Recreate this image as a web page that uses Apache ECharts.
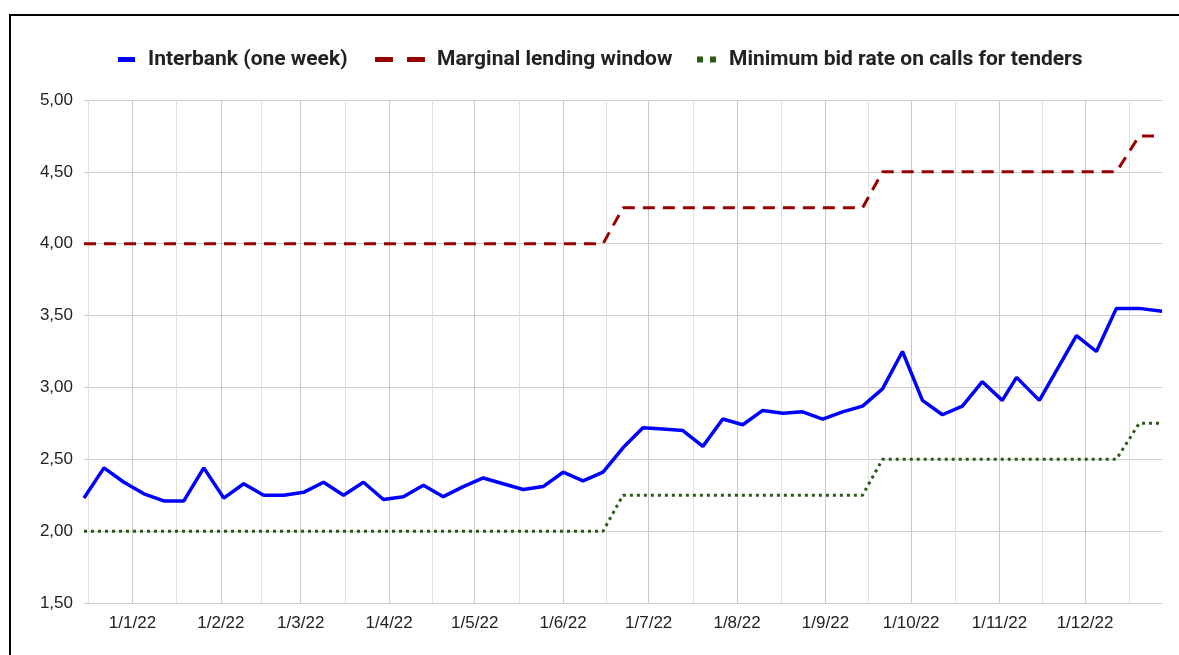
<!DOCTYPE html>
<html>
<head>
<meta charset="utf-8">
<title>Interbank rates 2022</title>
<script src="https://cdn.jsdelivr.net/npm/echarts@6.0.0/dist/echarts.min.js"></script>
<style>
  html, body { margin: 0; padding: 0; background: #fff; overflow: hidden; }
  #frame { position: absolute; left: 9px; top: 14px; width: 1300px; height: 800px; border: 2px solid #000; box-sizing: border-box; }
  #chart { position: absolute; left: 0; top: 0; width: 1179px; height: 655px; }
</style>
</head>
<body>
<div id="frame"></div>
<div id="chart"></div>
<script>
// fechas (semanal)
var dates = ['2021-12-15','2021-12-22','2021-12-29',
  '2022-01-05','2022-01-12','2022-01-19','2022-01-26',
  '2022-02-02','2022-02-09','2022-02-16','2022-02-23',
  '2022-03-02','2022-03-09','2022-03-16','2022-03-23','2022-03-30',
  '2022-04-06','2022-04-13','2022-04-20','2022-04-27',
  '2022-05-04','2022-05-11','2022-05-18','2022-05-25',
  '2022-06-01','2022-06-08','2022-06-15','2022-06-22','2022-06-29',
  '2022-07-06','2022-07-13','2022-07-20','2022-07-27',
  '2022-08-03','2022-08-10','2022-08-17','2022-08-24','2022-08-31',
  '2022-09-07','2022-09-14','2022-09-21','2022-09-28',
  '2022-10-05','2022-10-12','2022-10-19','2022-10-26',
  '2022-11-02','2022-11-07','2022-11-15','2022-11-28',
  '2022-12-05','2022-12-12','2022-12-20','2022-12-28'];

var interbank = [2.23, 2.44, 2.34,
  2.26, 2.21, 2.21, 2.44,
  2.23, 2.33, 2.25, 2.25,
  2.27, 2.34, 2.25, 2.34, 2.22,
  2.24, 2.32, 2.24, 2.31,
  2.37, 2.33, 2.29, 2.31,
  2.41, 2.35, 2.41, 2.58, 2.72,
  2.71, 2.70, 2.59, 2.78,
  2.74, 2.84, 2.82, 2.83, 2.78,
  2.83, 2.87, 2.99, 3.25,
  2.91, 2.81, 2.87, 3.04,
  2.91, 3.07, 2.91, 3.36,
  3.25, 3.55, 3.55, 3.53];

var marginalLending = [4.00, 4.00, 4.00,
  4.00, 4.00, 4.00, 4.00,
  4.00, 4.00, 4.00, 4.00,
  4.00, 4.00, 4.00, 4.00, 4.00,
  4.00, 4.00, 4.00, 4.00,
  4.00, 4.00, 4.00, 4.00,
  4.00, 4.00, 4.00, 4.25, 4.25,
  4.25, 4.25, 4.25, 4.25,
  4.25, 4.25, 4.25, 4.25, 4.25,
  4.25, 4.25, 4.50, 4.50,
  4.50, 4.50, 4.50, 4.50,
  4.50, 4.50, 4.50, 4.50,
  4.50, 4.50, 4.75, 4.75];

var minimumBid = [2.00, 2.00, 2.00,
  2.00, 2.00, 2.00, 2.00,
  2.00, 2.00, 2.00, 2.00,
  2.00, 2.00, 2.00, 2.00, 2.00,
  2.00, 2.00, 2.00, 2.00,
  2.00, 2.00, 2.00, 2.00,
  2.00, 2.00, 2.00, 2.25, 2.25,
  2.25, 2.25, 2.25, 2.25,
  2.25, 2.25, 2.25, 2.25, 2.25,
  2.25, 2.25, 2.50, 2.50,
  2.50, 2.50, 2.50, 2.50,
  2.50, 2.50, 2.50, 2.50,
  2.50, 2.50, 2.75, 2.75];

// etiquetas del eje x (inicio de mes) y lineas intermedias
var monthTicks = ['2022-01-01','2022-02-01','2022-03-01','2022-04-01','2022-05-01','2022-06-01',
  '2022-07-01','2022-08-01','2022-09-01','2022-10-01','2022-11-01','2022-12-01'];
var monthLabels = ['1/1/22','1/2/22','1/3/22','1/4/22','1/5/22','1/6/22',
  '1/7/22','1/8/22','1/9/22','1/10/22','1/11/22','1/12/22'];
var midTicks = ['2021-12-16T12:00','2022-01-16T12:00','2022-02-15T00:00','2022-03-16T12:00',
  '2022-04-16T00:00','2022-05-16T12:00','2022-06-16T00:00','2022-07-16T12:00','2022-08-16T12:00',
  '2022-09-16T00:00','2022-10-16T12:00','2022-11-16T00:00','2022-12-16T12:00'];
var yTicks = { min: 1.5, max: 5, step: 0.5 };

// fecha local en ms
function toTime(s) {
  if (s.length === 10) s = s + 'T00:00';
  return new Date(s).getTime();
}

var monthTimes = monthTicks.map(toTime);
var xMin = toTime(dates[0]);
var xMax = toTime(dates[dates.length - 1]);

function pairs(values) {
  return dates.map(function (d, i) { return [toTime(d), values[i]]; });
}

var legendText = { fontFamily: 'Roboto', fontWeight: 'bold', fontSize: 21, color: '#222' };
var axisText = { fontFamily: 'Liberation Sans', fontSize: 17, color: '#222' };

var myChart = echarts.init(document.getElementById('chart'));
myChart.setOption({
  animation: false,
  grid: { left: 84, right: 17, top: 100, bottom: 52, containLabel: false },
  legend: [{
    left: 118, top: 49, padding: 0, selectedMode: false,
    itemWidth: 17, itemHeight: 5,
    itemStyle: { borderWidth: 0 },
    data: [{ name: 'Interbank (one week)', icon: 'rect' }],
    textStyle: Object.assign({ padding: [0, 0, 0, 8] }, legendText)
  }, {
    left: 375, top: 49, padding: 0, selectedMode: false,
    itemWidth: 50, itemHeight: 5,
    itemStyle: { borderWidth: 0 },
    data: [{ name: 'Marginal lending window', icon: 'path://M0,0H18V5H0Z M32,0H50V5H32Z' }],
    textStyle: Object.assign({ padding: [0, 0, 0, 7] }, legendText)
  }, {
    left: 697, top: 49, padding: 0, selectedMode: false,
    itemWidth: 19, itemHeight: 6,
    itemStyle: { borderWidth: 0 },
    data: [{ name: 'Minimum bid rate on calls for tenders', icon: 'path://M0,0H6V6H0Z M13,0H19V6H13Z' }],
    textStyle: Object.assign({ padding: [0, 0, 0, 8] }, legendText)
  }],
  xAxis: [{
    type: 'value',
    min: xMin,
    max: xMax,
    axisLine: { show: false },
    axisTick: { show: false, customValues: monthTimes },
    splitLine: { show: true, lineStyle: { color: '#c8c8c8', width: 1 } },
    axisLabel: Object.assign({
      customValues: monthTimes,
      margin: 12,
      formatter: function (value) {
        var idx = 0, best = Infinity;
        monthTimes.forEach(function (t, i) {
          if (Math.abs(t - value) < best) { best = Math.abs(t - value); idx = i; }
        });
        return monthLabels[idx];
      }
    }, axisText)
  }, {
    // lineas de quincena
    type: 'value',
    position: 'top',
    min: xMin,
    max: xMax,
    axisLine: { show: false },
    axisLabel: { show: false },
    axisTick: { show: false, customValues: midTicks.map(toTime) },
    splitLine: { show: true, lineStyle: { color: '#e0e0e0', width: 1 } }
  }],
  yAxis: {
    type: 'value',
    min: yTicks.min,
    max: yTicks.max,
    interval: yTicks.step,
    axisLine: { show: false },
    axisTick: { show: false },
    splitLine: { lineStyle: { color: '#cccccc', width: 1 } },
    axisLabel: Object.assign({
      margin: 11,
      formatter: function (v) { return v.toFixed(2).replace('.', ','); }
    }, axisText)
  },
  series: [{
    name: 'Interbank (one week)',
    type: 'line',
    symbol: 'none',
    data: pairs(interbank),
    itemStyle: { color: '#0000ff' },
    lineStyle: { color: '#0000ff', width: 3.5 }
  }, {
    name: 'Marginal lending window',
    type: 'line',
    symbol: 'none',
    data: pairs(marginalLending),
    itemStyle: { color: '#990000' },
    lineStyle: { color: '#990000', width: 3, type: [12, 8] }
  }, {
    name: 'Minimum bid rate on calls for tenders',
    type: 'line',
    symbol: 'none',
    data: pairs(minimumBid),
    itemStyle: { color: '#2b5a17' },
    lineStyle: { color: '#2b5a17', width: 3, type: [3, 4] }
  }]
});
</script>
</body>
</html>
